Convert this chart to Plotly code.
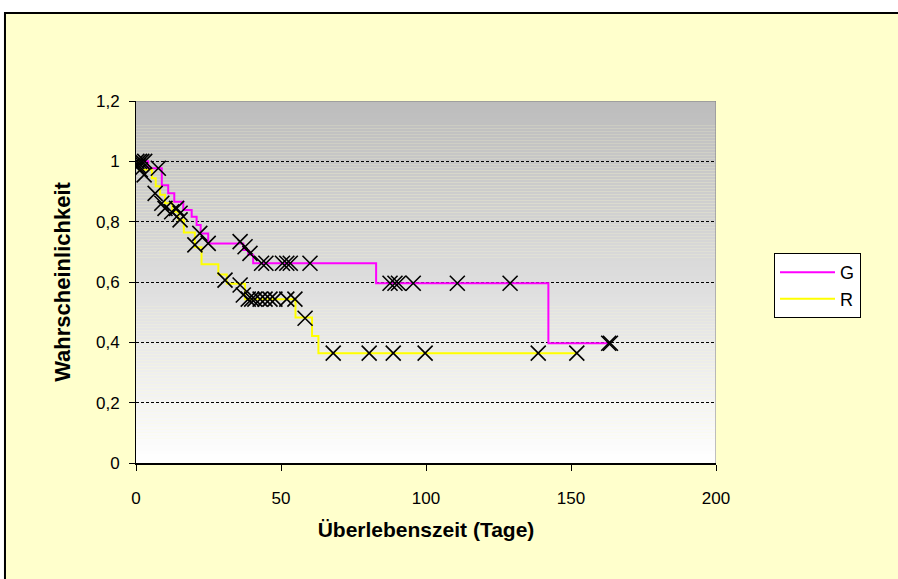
import plotly.graph_objects as go

# ---- data ----
g_times = [0, 4.2, 8.9, 11.1, 13.2, 16.3, 19.2, 20.9, 22.3, 24.9, 37.0, 38.7, 40.4, 82.8, 142.2, 163.4]
g_surv = [1.0, 0.977, 0.921, 0.894, 0.866, 0.839, 0.816, 0.789, 0.761, 0.728, 0.706, 0.690, 0.662, 0.596, 0.397, 0.397]

r_times = [0, 1.0, 5.5, 6.8, 8.3, 10.0, 12.5, 14.6, 16.5, 20.3, 22.6, 28.4, 31.3, 37.6, 55.0, 60.7, 62.9, 152.0]
r_surv = [1.0, 0.972, 0.944, 0.917, 0.889, 0.861, 0.833, 0.806, 0.764, 0.715, 0.659, 0.625, 0.594, 0.543, 0.482, 0.421, 0.364, 0.364]

g_cens_t = [0.3, 1.2, 2.0, 3.0, 7.7, 14.0, 15.2, 22.0, 24.9, 35.9, 37.6, 39.3, 43.3, 44.8, 50.5, 52.0, 53.2,
            60.0, 87.6, 89.3, 90.5, 95.6, 110.8, 129.0, 163.0, 163.6]
g_cens_s = [1.0, 1.0, 1.0, 1.0, 0.977, 0.844, 0.828, 0.761, 0.728, 0.734, 0.717, 0.695, 0.662, 0.662, 0.662,
            0.662, 0.662, 0.662, 0.596, 0.596, 0.596, 0.596, 0.596, 0.596, 0.397, 0.397]

r_cens_t = [0.8, 1.5, 2.8, 6.6, 8.9, 10.0, 12.3, 15.2, 20.3, 30.7, 35.9, 37.0, 38.7, 39.9, 41.0, 42.8, 44.5,
            46.2, 47.9, 52.0, 54.8, 58.3, 68.0, 80.4, 88.7, 99.7, 138.7, 152.0]
r_cens_s = [0.986, 0.972, 0.955, 0.894, 0.861, 0.844, 0.833, 0.806, 0.723, 0.606, 0.590, 0.557, 0.543, 0.543,
            0.543, 0.543, 0.543, 0.543, 0.543, 0.543, 0.543, 0.480, 0.364, 0.364, 0.364, 0.364, 0.364, 0.364]

x_ticks = [0, 50, 100, 150, 200]
y_ticks = [0, 0.2, 0.4, 0.6, 0.8, 1.0, 1.2]
x_range = [0, 200]
y_range = [0, 1.2]

FONT = "Liberation Sans, Arial, sans-serif"

fig = go.Figure()
fig.add_trace(go.Scatter(x=g_times, y=g_surv, mode="lines", line_shape="hv",
                         line=dict(color="#FF00FF", width=2), name="G"))
fig.add_trace(go.Scatter(x=r_times, y=r_surv, mode="lines", line_shape="hv",
                         line=dict(color="#FFFF00", width=2), name="R"))
mk = dict(symbol="x-thin", size=15, color="black", line=dict(color="black", width=1.6))
fig.add_trace(go.Scatter(x=g_cens_t, y=g_cens_s, mode="markers", marker=mk, showlegend=False, name="G zensiert"))
fig.add_trace(go.Scatter(x=r_cens_t, y=r_cens_s, mode="markers", marker=mk, showlegend=False, name="R zensiert"))

shapes = []
# outer chart frame (light yellow, black border top/left)
shapes.append(dict(type="rect", xref="paper", yref="paper", x0=-0.2259, x1=1.33, y0=-0.34, y1=1.243,
                   fillcolor="#FFFFCC", line=dict(color="black", width=2), layer="below"))
# gradient plot background (grey at top to white at bottom)
n = 120
for i in range(n):
    y0 = y_range[0] + (y_range[1] - y_range[0]) * i / n
    y1 = y_range[0] + (y_range[1] - y_range[0]) * (i + 1) / n
    t = (i + 0.5) / n
    c = round(255 - (255 - 188) * t)
    shapes.append(dict(type="rect", xref="x", yref="y", x0=x_range[0], x1=x_range[1], y0=y0, y1=y1,
                       fillcolor=f"rgb({c},{c},{c})", line=dict(width=0), layer="below"))
# grey plot border top & right
shapes.append(dict(type="line", xref="x", yref="y", x0=x_range[0], x1=x_range[1], y0=y_range[1], y1=y_range[1],
                   line=dict(color="#808080", width=1)))
shapes.append(dict(type="line", xref="x", yref="y", x0=x_range[1], x1=x_range[1], y0=y_range[0], y1=y_range[1],
                   line=dict(color="#808080", width=1)))

fig.update_layout(
    width=898, height=579,
    margin=dict(l=136, r=182, t=101, b=116),
    paper_bgcolor="white", plot_bgcolor="rgba(0,0,0,0)",
    separators=",.",
    font=dict(family=FONT, size=17, color="black"),
    shapes=shapes,
    showlegend=True,
    legend=dict(x=1.1, y=0.58, xanchor="left", yanchor="top", bgcolor="white",
                bordercolor="black", borderwidth=1, font=dict(size=18), itemwidth=55),
    xaxis=dict(range=x_range, tickvals=x_ticks, showgrid=False, zeroline=False,
               showline=True, linecolor="black", linewidth=2, ticks="outside", ticklen=6,
               tickcolor="black", ticklabelstandoff=13,
               title=dict(text="<b>Überlebenszeit (Tage)</b>", standoff=15, font=dict(size=21))),
    yaxis=dict(range=y_range, tickvals=y_ticks, showgrid=True, gridcolor="black", griddash="3px,2px",
               gridwidth=1, zeroline=False, showline=True, linecolor="black", linewidth=1,
               ticks="outside", ticklen=6, tickcolor="black", ticklabelstandoff=6,
               title=dict(text="<b>Wahrscheinlichkeit</b>", standoff=19, font=dict(size=22))),
)

fig.write_html("out.html")
